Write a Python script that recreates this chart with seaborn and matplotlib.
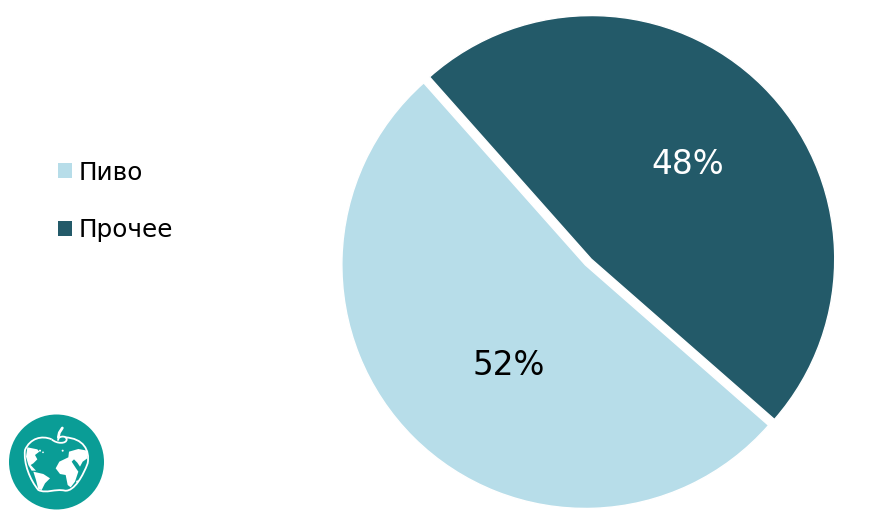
import matplotlib
matplotlib.use('Agg')
import matplotlib.pyplot as plt
import seaborn as sns
from matplotlib.patches import Circle, Polygon, PathPatch
from matplotlib.path import Path

labels = ['Пиво', 'Прочее']
shares = [52, 48]
pct_labels = ['52%', '48%']
colors = ['#b7dde9', '#235a69']
pct_colors = ['black', 'white']

sns.set_theme(style='white')
plt.rcParams['font.family'] = ['DejaVu Sans']
palette = sns.color_palette(colors)

W, H = 873, 520
fig = plt.figure(figsize=(W / 100, H / 100), dpi=100, facecolor='white')

# pie axes placed in pixels, slices are exploded a little so the gap has a kink at the centre
R = 243.5
cx, cy = 588.3, 262
lim = 1.03
ax = fig.add_axes([(cx - R * lim) / W, 1 - (cy + R * lim) / H, 2 * R * lim / W, 2 * R * lim / H])
wedges, _ = ax.pie(shares, colors=palette, startangle=131.6, radius=1, explode=[0.017, 0.017])
ax.set_xlim(-lim, lim)
ax.set_ylim(-lim, lim)

ax.text(-0.326, -0.427, pct_labels[0], color=pct_colors[0], fontsize=23.5, ha='center', va='center')
ax.text(0.409, 0.402, pct_labels[1], color=pct_colors[1], fontsize=23.5, ha='center', va='center')

leg = fig.legend(wedges, labels, loc='upper left', bbox_to_anchor=(58 / W, 1 - 160.5 / H), frameon=False,
                 fontsize=17.8, handlelength=0.57, handleheight=0.57, handletextpad=0.28,
                 labelspacing=1.35, borderpad=0, borderaxespad=0, labelcolor='black')
for h, c in zip(leg.legend_handles, palette):
    h.set_edgecolor('none')
    h.set_facecolor(c)

# logo, traced roughly from a 3x crop of the 120x120 px corner
lg = fig.add_axes([0, 0, 120 / W, 120 / H])
lg.set_xlim(0, 360)
lg.set_ylim(360, 0)
lg.axis('off')
lg.add_patch(Circle((169.5, 186), 142.5, color='#0a9d96', lw=0))
apple = Path([(155, 118), (125, 105), (90, 115), (75, 150), (70, 190), (90, 240), (115, 270), (140, 282),
              (165, 265), (195, 272), (223, 275), (250, 225), (263, 190), (270, 150), (250, 115), (195, 112)],
             [Path.MOVETO] + [Path.CURVE4] * 15)
lg.add_patch(PathPatch(apple, fill=False, ec='white', lw=1.3))
curl = Path([(155, 118), (170, 132), (200, 132), (200, 118), (200, 105), (170, 108), (175, 122)],
            [Path.MOVETO] + [Path.CURVE4] * 6)
lg.add_patch(PathPatch(curl, fill=False, ec='white', lw=1.3))
lg.plot([175, 178, 187], [112, 98, 84], color='white', lw=2)
shapes = [
    [(82, 142), (112, 148), (118, 155), (105, 165), (112, 178), (100, 190), (92, 195), (108, 212), (95, 212), (85, 195), (78, 170)],
    [(100, 215), (130, 222), (150, 235), (135, 250), (125, 270), (115, 268), (108, 240)],
    [(167, 205), (178, 185), (205, 172), (207, 155), (235, 147), (262, 152), (262, 175), (248, 185), (240, 200),
     (232, 188), (222, 178), (215, 185), (228, 205), (235, 215), (225, 245), (212, 262), (203, 255), (197, 225), (180, 222)],
]
for s in shapes:
    lg.add_patch(Polygon(s, closed=True, color='white', lw=0))
lg.add_patch(Circle((120, 152), 3, color='white', lw=0))
lg.add_patch(Circle((129, 157), 2.5, color='white', lw=0))
lg.add_patch(Circle((188, 152), 3, color='white', lw=0))
lg.add_patch(Circle((232, 245), 3.5, color='white', lw=0))

fig.savefig('out.png', dpi=100, facecolor='white')
